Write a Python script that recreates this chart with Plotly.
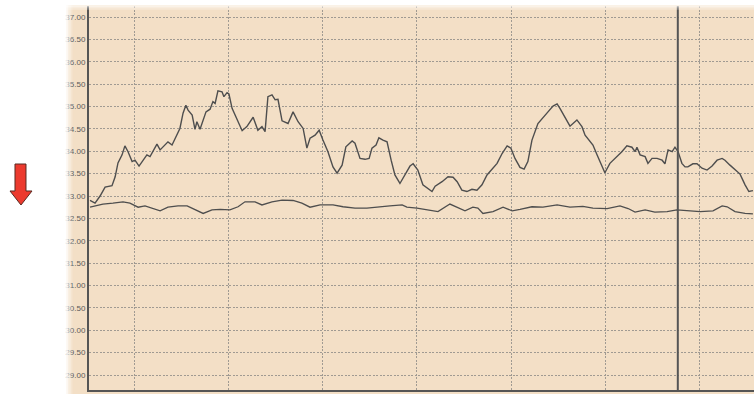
import pandas as pd
import plotly.graph_objects as go

# Recording start (clock time) and sample offsets in minutes
day_start = pd.Timestamp("2000-01-01 08:00:00")

upper_minutes = [
    16.0, 17.6, 19.2, 20.8, 23.0, 24.0, 24.9, 26.2, 27.1, 28.1, 29.4, 30.3, 31.6, 32.9,
    34.1, 35.1, 36.0, 37.3, 38.3, 39.9, 40.8, 42.1, 43.7, 44.6, 45.6, 46.5, 47.2, 48.5,
    49.4, 50.0, 51.0, 52.0, 52.9, 54.2, 55.1, 55.8, 56.7, 58.0, 58.6, 59.6, 60.2, 61.2,
    62.8, 64.4, 65.9, 67.9, 69.4, 70.7, 71.7, 72.6, 73.9, 74.9, 75.8, 77.1, 79.0, 80.6,
    82.2, 83.8, 85.0, 86.0, 87.6, 88.9, 90.1, 91.7, 93.3, 94.6, 96.2, 97.4, 99.4, 100.3,
    101.9, 103.5, 104.8, 105.7, 107.0, 107.9, 109.2, 110.5, 111.8, 113.0, 114.6, 116.2,
    117.8, 118.8, 120.3, 121.9, 124.8, 125.8, 128.0, 129.9, 131.5, 132.8, 134.3, 135.9,
    137.5, 139.1, 140.7, 142.3, 143.9, 145.5, 147.1, 148.7, 149.9, 151.2, 152.8, 154.1,
    155.3, 156.6, 158.5, 160.1, 161.7, 163.3, 164.6, 165.5, 167.1, 168.7, 170.9, 172.5,
    173.5, 175.1, 176.0, 177.3, 178.9, 179.8, 181.4, 183.7, 185.2, 186.8, 188.4, 189.4,
    190.0, 191.0, 192.6, 193.5, 194.8, 196.4, 198.0, 198.9, 199.9, 201.2, 202.1, 203.1,
    204.3, 205.3, 206.2, 207.8, 209.1, 210.7, 212.3, 213.9, 215.5, 217.1, 218.0, 219.6,
    221.2, 222.8, 224.4, 225.6, 226.9,
]
upper_values = [
    32.90, 32.84, 33.00, 33.20, 33.23, 33.43, 33.74, 33.92, 34.12, 33.99, 33.77, 33.80,
    33.67, 33.80, 33.92, 33.88, 33.99, 34.16, 34.03, 34.14, 34.21, 34.14, 34.40, 34.51,
    34.85, 35.03, 34.92, 34.81, 34.49, 34.66, 34.49, 34.70, 34.88, 34.94, 35.11, 35.07,
    35.35, 35.33, 35.22, 35.31, 35.28, 34.96, 34.70, 34.46, 34.55, 34.76, 34.47, 34.55,
    34.44, 35.22, 35.26, 35.15, 35.16, 34.68, 34.62, 34.88, 34.66, 34.51, 34.07, 34.29,
    34.36, 34.47, 34.25, 33.99, 33.65, 33.51, 33.69, 34.10, 34.23, 34.18, 33.84, 33.82,
    33.84, 34.07, 34.14, 34.30, 34.25, 34.21, 33.80, 33.47, 33.28, 33.47, 33.67, 33.72,
    33.58, 33.25, 33.10, 33.22, 33.32, 33.43, 33.42, 33.32, 33.13, 33.10, 33.15, 33.13,
    33.25, 33.47, 33.60, 33.73, 33.95, 34.12, 34.07, 33.84, 33.64, 33.60, 33.77, 34.25,
    34.62, 34.74, 34.88, 35.01, 35.06, 34.96, 34.77, 34.56, 34.70, 34.55, 34.36, 34.21,
    34.14, 33.92, 33.65, 33.52, 33.73, 33.88, 33.99, 34.12, 34.09, 33.99, 34.09, 33.92,
    33.88, 33.73, 33.84, 33.84, 33.80, 33.72, 34.03, 33.99, 34.09, 33.99, 33.73, 33.65,
    33.65, 33.72, 33.72, 33.62, 33.58, 33.67, 33.80, 33.84, 33.80, 33.69, 33.58, 33.49,
    33.25, 33.10, 33.12,
]

lower_minutes = [
    16.0, 17.6, 20.1, 23.3, 26.5, 28.7, 31.3, 33.5, 35.7, 38.3, 40.8, 44.0, 46.9, 49.4,
    52.0, 54.8, 57.4, 60.5, 63.1, 65.3, 68.5, 70.7, 73.9, 77.1, 80.6, 83.4, 86.0, 89.2,
    93.3, 96.5, 100.3, 104.1, 107.6, 111.4, 115.3, 116.8, 120.0, 123.2, 126.7, 130.5,
    133.7, 135.3, 137.8, 139.4, 141.0, 144.2, 147.4, 150.3, 152.8, 156.6, 160.1, 164.6,
    168.7, 172.8, 176.0, 180.5, 184.6, 187.2, 189.4, 192.6, 195.7, 199.6, 202.7, 205.9,
    210.1, 214.2, 217.1, 218.7, 221.2, 224.4, 226.9,
]
lower_values = [
    32.75, 32.78, 32.82, 32.84, 32.87, 32.84, 32.75, 32.78, 32.73, 32.67, 32.75, 32.78,
    32.78, 32.69, 32.61, 32.69, 32.70, 32.69, 32.76, 32.87, 32.87, 32.80, 32.87, 32.91,
    32.90, 32.84, 32.75, 32.80, 32.80, 32.76, 32.73, 32.73, 32.76, 32.78, 32.80, 32.75,
    32.73, 32.69, 32.65, 32.82, 32.73, 32.67, 32.75, 32.73, 32.61, 32.65, 32.75, 32.67,
    32.70, 32.76, 32.75, 32.80, 32.75, 32.77, 32.73, 32.72, 32.78, 32.72, 32.64, 32.69,
    32.64, 32.65, 32.69, 32.67, 32.65, 32.67, 32.78, 32.76, 32.65, 32.61, 32.60,
]

y_ticks = [29.0 + 0.5 * i for i in range(17)]
y_tick_labels = [f"{v:.2f}" for v in y_ticks]
cursor_minute = 203.0
view_minutes = (15.68, 227.24)
view_values = (28.665, 37.246)


def at(minutes):
    return [day_start + pd.Timedelta(minutes=m) for m in minutes]


W, H = 754, 394
L, R, T, B = 89, 0, 6, 4
PW, PH = W - L - R, H - T - B


def paper(x, y):
    """Pixel position on the page -> paper coordinates."""
    return (x - L) / PW, (H - B - y) / PH


LINE = "#4e4e4e"
GRID = "#a09a92"
GRID_DASH = "2px,1.5px"
PANEL = "#F3DFC6"

fig = go.Figure()
fig.add_trace(go.Scatter(x=at(upper_minutes), y=upper_values, mode="lines",
                         line=dict(color=LINE, width=1.4), hoverinfo="skip"))
fig.add_trace(go.Scatter(x=at(lower_minutes), y=lower_values, mode="lines",
                         line=dict(color=LINE, width=1.3), hoverinfo="skip"))

shapes = []
# beige panel behind the plot
x0, y0 = paper(66, 394)
x1, y1 = paper(754, 5)
shapes.append(dict(type="rect", xref="paper", yref="paper", x0=x0, x1=x1, y0=y0, y1=y1,
                   fillcolor=PANEL, line_width=0, layer="below"))
# vertical grid stops short of the bottom axis
shapes.append(dict(type="rect", xref="paper", yref="y", x0=0, x1=1,
                   y0=view_values[0], y1=28.78, fillcolor=PANEL, line_width=0,
                   layer="between"))
# cursor
shapes.append(dict(type="line", xref="x", yref="paper",
                   x0=at([cursor_minute])[0], x1=at([cursor_minute])[0], y0=0, y1=1,
                   line=dict(color="#555555", width=2), layer="above"))
# soft white edges on the left and top of the panel
xa, ya = paper(0, 394)
xb, yb = paper(65.5, 0)
shapes.append(dict(type="rect", xref="paper", yref="paper", x0=xa, x1=xb, y0=ya, y1=yb,
                   fillcolor="white", line_width=0, layer="above"))
for i, op in enumerate([0.9, 0.75, 0.55, 0.35, 0.18]):
    xs, _ = paper(65.5 + 1.4 * i, 0)
    xe, _ = paper(65.5 + 1.4 * (i + 1), 0)
    shapes.append(dict(type="rect", xref="paper", yref="paper", x0=xs, x1=xe, y0=ya, y1=yb,
                       fillcolor="white", opacity=op, line_width=0, layer="above"))
for i, op in enumerate([0.8, 0.6, 0.4, 0.2]):
    _, ys = paper(0, 4 + i * 1.5)
    _, ye = paper(0, 4 + (i + 1) * 1.5)
    shapes.append(dict(type="rect", xref="paper", yref="paper", x0=xb, x1=1.0, y0=ye, y1=ys,
                       fillcolor="white", opacity=op, line_width=0, layer="above"))

# red down arrow in the margin
pts = [(15, 164), (26, 164), (26, 191), (32, 191), (21, 205), (10, 191), (15, 191)]
path = "M " + " L ".join(f"{paper(px, py)[0]:.5f},{paper(px, py)[1]:.5f}" for px, py in pts) + " Z"
shapes.append(dict(type="path", xref="paper", yref="paper", path=path,
                   fillcolor="#EC3A2E", line=dict(color="#5a2a22", width=1), layer="above"))

fig.update_layout(
    width=W, height=H,
    margin=dict(l=L, r=R, t=T, b=B, pad=0, autoexpand=False),
    paper_bgcolor="white",
    plot_bgcolor="rgba(0,0,0,0)",
    showlegend=False,
    shapes=shapes,
    font=dict(family="Liberation Sans, Arial, sans-serif", size=8, color="#5a5a5a"),
)
fig.update_xaxes(
    type="date",
    range=at(view_minutes),
    tick0=day_start, dtick=30 * 60 * 1000, tickformat="%H:%M:%S",
    showgrid=True, gridcolor=GRID, griddash=GRID_DASH, gridwidth=1,
    showline=True, linecolor="#555555", linewidth=2,
    ticks="", zeroline=False, automargin=False,
)
fig.update_yaxes(
    range=list(view_values),
    tickvals=y_ticks, ticktext=y_tick_labels,
    showgrid=True, gridcolor=GRID, griddash=GRID_DASH, gridwidth=1,
    showline=True, linecolor="#555555", linewidth=2,
    ticks="", zeroline=False, automargin=False,
)

fig.write_html("out.html")
